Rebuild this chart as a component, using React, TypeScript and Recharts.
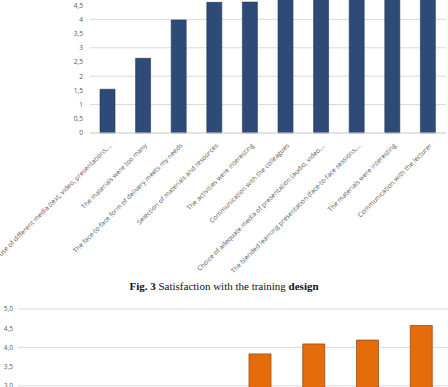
import React from "react";
import { BarChart, Bar, XAxis, YAxis, CartesianGrid } from "recharts";

// Fig. 3 – satisfaction with the training design (mean scores, 0–5)
const designItems = [
  "The use of different media (text, video, presentations,…",
  "The materials were too many",
  "The face-to-face form of delivery meets my needs",
  "Selection of materials and resources",
  "The activities were interesting",
  "Communication with the colleagues",
  "Choice of adequate media of presentation (audio, video,…",
  "The blended learning presentation (face-to-face sessions,…",
  "The materials were interesting",
  "Communication with the lecturer",
];
const designScores = [1.54, 2.63, 3.98, 4.6, 4.61, 4.7, 4.72, 4.75, 4.78, 4.82];
const designTicks = [0, 0.5, 1, 1.5, 2, 2.5, 3, 3.5, 4, 4.5, 5];

// next figure: only the upper part of the axis is in view
const nextItems = ["A1", "A2", "A3", "A4", "A5", "A6", "A7", "A8"];
const nextScores = [2.4, 2.6, 2.8, 2.9, 3.83, 4.09, 4.19, 4.57];
const nextTicks = [0, 0.5, 1, 1.5, 2, 2.5, 3, 3.5, 4, 4.5, 5];

const designData = designItems.map((name, i) => ({ name, value: designScores[i] }));
const nextData = nextItems.map((name, i) => ({ name, value: nextScores[i] }));

const labelFont = "'Open Sans', 'Liberation Sans', sans-serif";

function SlantedTick(props: any) {
  const { x, y, payload } = props;
  return (
    <g transform={`translate(${x + 4},${y + 5})`}>
      <text
        textAnchor="end"
        transform="rotate(-45)"
        fontSize={6.6}
        fontFamily={labelFont}
        fill="#595959"
      >
        {payload.value}
      </text>
    </g>
  );
}

export default function App() {
  return (
    <div
      style={{
        position: "absolute",
        left: 0,
        top: 0,
        width: 448,
        height: 387,
        overflow: "hidden",
        background: "#fff",
      }}
    >
      <div style={{ position: "absolute", left: 0, top: -19 }}>
        <BarChart
          width={448}
          height={292}
          data={designData}
          margin={{ top: 10, right: 2, left: 0, bottom: 0 }}
        >
          <CartesianGrid vertical={false} stroke="#d9d9d9" />
          <XAxis
            dataKey="name"
            interval={0}
            height={140}
            tickLine={false}
            axisLine={{ stroke: "#d9d9d9" }}
            tick={<SlantedTick />}
          />
          <YAxis
            width={90}
            domain={[0, 5]}
            ticks={designTicks}
            tickFormatter={(v: number) => String(v).replace(".", ",")}
            axisLine={false}
            tickLine={false}
            tickSize={0}
            tickMargin={7}
            tick={{ fontSize: 6.6, fill: "#595959", fontFamily: labelFont }}
          />
          <Bar
            dataKey="value"
            fill="#2d4b76"
            stroke="#1f3556"
            strokeWidth={0.6}
            barSize={15}
            isAnimationActive={false}
          />
        </BarChart>
      </div>

      <div
        style={{
          position: "absolute",
          left: 0,
          top: 280,
          width: 448,
          textAlign: "center",
          fontFamily: "'Liberation Serif', 'Times New Roman', serif",
          fontSize: 11,
          color: "#111",
        }}
      >
        <b>Fig. 3</b> Satisfaction with the training <b>design</b>
      </div>

      <div style={{ position: "absolute", left: 0, top: 299 }}>
        <BarChart
          width={448}
          height={202}
          data={nextData}
          margin={{ top: 10, right: 0, left: 0, bottom: 0 }}
        >
          <CartesianGrid vertical={false} stroke="#d9d9d9" />
          <XAxis dataKey="name" hide />
          <YAxis
            width={18}
            domain={[0, 5]}
            ticks={nextTicks}
            tickFormatter={(v: number) => v.toFixed(1).replace(".", ",")}
            axisLine={false}
            tickLine={false}
            tickSize={0}
            tickMargin={5}
            tick={{ fontSize: 6.6, fill: "#595959", fontFamily: labelFont }}
          />
          <Bar
            dataKey="value"
            fill="#e46c0a"
            stroke="#9a4d12"
            strokeWidth={0.8}
            barSize={22}
            isAnimationActive={false}
          />
        </BarChart>
      </div>
    </div>
  );
}
